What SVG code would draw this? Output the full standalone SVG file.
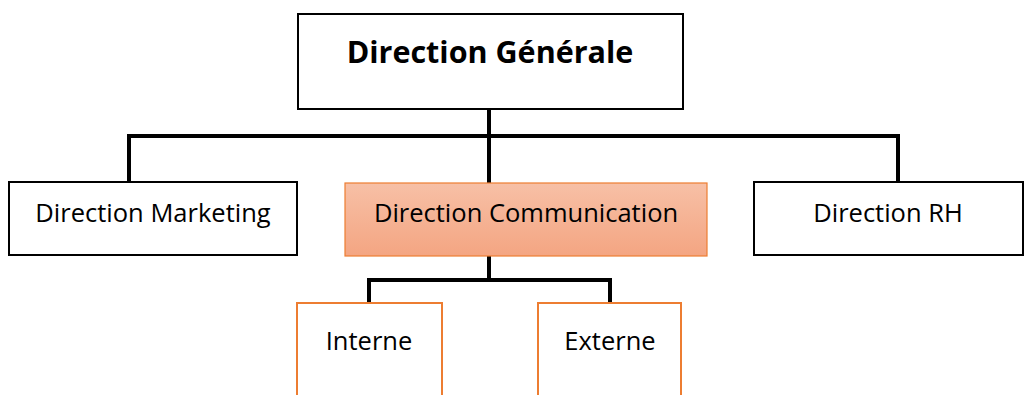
<svg xmlns="http://www.w3.org/2000/svg" width="1035" height="395" viewBox="0 0 1035 395">
<defs>
<linearGradient id="g" x1="0" y1="0" x2="0" y2="1">
<stop offset="0" stop-color="#F7C0A6"/>
<stop offset="1" stop-color="#F4A582"/>
</linearGradient>
<style>
.box{fill:#fff;stroke:#000;stroke-width:2}
.obox{fill:#fff;stroke:#ED7D31;stroke-width:2}
.cbox{fill:url(#g);stroke:#ED7D31;stroke-width:1.2}
.t{font-family:"Open Sans",Lato,sans-serif;font-size:25.5px;fill:#000;text-anchor:middle}
.tb{font-family:"Open Sans",Lato,sans-serif;font-size:30.5px;font-weight:bold;fill:#000;text-anchor:middle}
.c{fill:none;stroke:#000;stroke-width:4}
</style>
</defs>
<g id="connectors">
<polyline class="c" points="129,182 129,136 898,136 898,182"/>
<line class="c" x1="489" y1="109" x2="489" y2="183"/>
<line class="c" x1="489" y1="256" x2="489" y2="280"/>
<polyline class="c" points="369,303 369,280 610,280 610,303"/>
</g>
<g id="direction-generale">
<rect class="box" x="298" y="14" width="385" height="95"/>
<text class="tb" x="490" y="63">Direction Générale</text>
</g>
<g id="direction-marketing">
<rect class="box" x="9" y="182" width="288" height="73"/>
<text class="t" x="153" y="222">Direction Marketing</text>
</g>
<g id="direction-communication">
<rect class="cbox" x="345" y="183" width="362" height="73"/>
<text class="t" x="526" y="222">Direction Communication</text>
</g>
<g id="direction-rh">
<rect class="box" x="754" y="182" width="269" height="73"/>
<text class="t" x="888" y="222">Direction RH</text>
</g>
<g id="interne">
<rect class="obox" x="297" y="303" width="145" height="100"/>
<text class="t" x="369" y="350">Interne</text>
</g>
<g id="externe">
<rect class="obox" x="538" y="303" width="143" height="100"/>
<text class="t" x="610" y="350">Externe</text>
</g>
</svg>
